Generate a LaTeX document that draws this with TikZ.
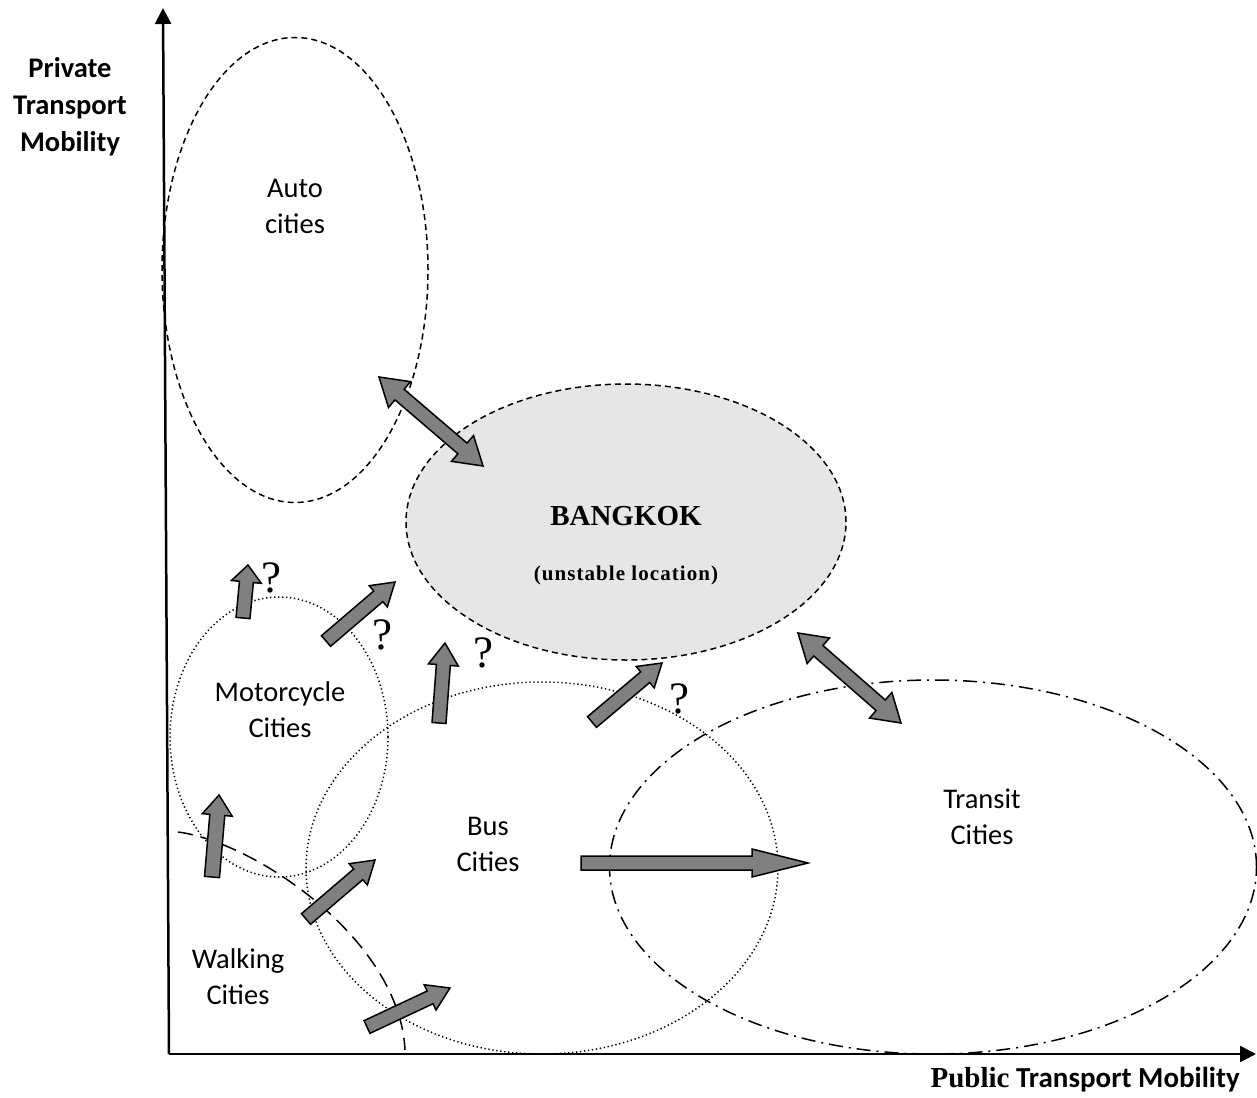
\documentclass[tikz,border=0pt]{standalone}
\usepackage{fontspec}
\newfontfamily\calibri{Carlito}
\newfontfamily\serifbf{Liberation Serif}
\newfontfamily\serifwide{Liberation Serif}[LetterSpace=5]
\usetikzlibrary{arrows.meta,shapes.geometric}

\definecolor{arrowgray}{HTML}{808080}
\definecolor{cityfill}{HTML}{E6E6E6}

\tikzset{
  lbl/.style={font=\calibri\fontsize{28.5}{36}\selectfont, align=center, inner sep=0pt},
  axlbl/.style={font=\calibri\fontsize{28.5}{37}\selectfont\bfseries, align=center, inner sep=0pt},
  qmark/.style={font=\serifbf\fontsize{45}{45}\selectfont, inner sep=0pt},
  axisline/.style={line width=2.5pt, -{Triangle[length=16pt,width=16pt]}},
  zone/.style={ellipse, inner sep=0pt, outer sep=0pt},
  dashzone/.style={zone, draw, line width=1.5pt, dash pattern=on 6pt off 4pt},
  dotzone/.style={zone, draw, line width=1.5pt, dash pattern=on 1.3pt off 2.7pt},
  dashdotzone/.style={zone, draw, line width=1.5pt, dash pattern=on 14pt off 6pt on 2pt off 6pt},
  longdash/.style={line width=1.5pt, dash pattern=on 15pt off 8pt},
  blockstyle/.style={fill=arrowgray, draw=black, line width=1.5pt, line join=miter},
}

% single-headed block arrow: x1 y1 x2 y2 shaft-half head-half head-length
\newcommand{\blockarrow}[7]{%
  \pgfmathsetmacro\baang{atan2(#2-#4,#3-#1)}%
  \pgfmathsetmacro\balen{veclen(#3-#1,#4-#2)}%
  \pgfmathsetmacro\babase{\balen-#7}%
  \begin{scope}[shift={(#1,#2)},rotate=\baang]
    \filldraw[blockstyle] (0,#5) -- (\babase,#5) -- (\babase,#6) -- (\balen,0)
      -- (\babase,-#6) -- (\babase,-#5) -- (0,-#5) -- cycle;
  \end{scope}}

% double-headed block arrow: x1 y1 x2 y2 shaft-half head-half head-length
\newcommand{\dblockarrow}[7]{%
  \pgfmathsetmacro\baang{atan2(#2-#4,#3-#1)}%
  \pgfmathsetmacro\balen{veclen(#3-#1,#4-#2)}%
  \pgfmathsetmacro\babase{\balen-#7}%
  \begin{scope}[shift={(#1,#2)},rotate=\baang]
    \filldraw[blockstyle] (0,0) -- (#7,#6) -- (#7,#5) -- (\babase,#5) -- (\babase,#6)
      -- (\balen,0) -- (\babase,-#6) -- (\babase,-#5) -- (#7,-#5) -- (#7,-#6) -- cycle;
  \end{scope}}

\begin{document}
\begin{tikzpicture}[x=1pt,y=-1pt]
  \useasboundingbox (0,0) rectangle (1257,1097);

  % axes
  \coordinate (origin) at (169,1054);
  \coordinate (ytop) at (163,8);
  \coordinate (xend) at (1256,1054);
  \draw[axisline] (origin) -- (ytop);
  \draw[axisline] (origin) -- (xend);

  % city zones
  \node[dashzone, minimum width=266pt, minimum height=465pt] (auto) at (295,270) {};
  \node[dotzone, minimum width=218pt, minimum height=280pt] (moto) at (279,737) {};
  \node[dotzone, minimum width=472pt, minimum height=372pt] (bus) at (542,868) {};
  \node[dashdotzone, minimum width=647pt, minimum height=374pt] (transit) at (933,867) {};
  \draw[longdash] (178,832) .. controls (255,842) and (400,940) .. (405,1050);
  \node[dashzone, fill=cityfill, minimum width=440pt, minimum height=276pt] (bkk) at (626,522) {};

  % movements between city types
  \dblockarrow{379}{377}{483}{466}{7}{17}{27}
  \dblockarrow{798}{633}{901}{723}{7}{17}{27}
  \blockarrow{243}{618}{248}{565}{7}{15}{17}
  \blockarrow{326}{641}{395}{582}{7}{14}{22}
  \blockarrow{439}{723}{445}{643}{7}{15}{22}
  \blockarrow{592}{722}{662}{663}{7}{14}{22}
  \blockarrow{581}{863}{808}{863}{7}{14}{56}
  \blockarrow{212}{877}{219}{795}{7.5}{15}{20}
  \blockarrow{306}{919}{375}{860}{7}{14}{22}
  \blockarrow{367}{1027}{450}{988}{7}{14}{22}

  % labels
  \node[lbl] (autolbl) at (295,206) {Auto\\cities};
  \node[lbl] (motolbl) at (280,710) {Motorcycle\\Cities};
  \node[lbl] (buslbl) at (488,844) {Bus\\Cities};
  \node[lbl] (walklbl) at (238,977) {Walking\\Cities};
  \node[lbl] (translbl) at (982,817) {Transit\\Cities};
  \node[font=\serifbf\bfseries\fontsize{29}{30}\selectfont, inner sep=0pt] (bkkname) at (626,516) {BANGKOK};
  \node[font=\serifwide\bfseries\fontsize{21}{22}\selectfont, inner sep=0pt] (bkknote) at (626,575) {(unstable location)};

  \node[qmark] (q1) at (271,578) {?};
  \node[qmark] (q2) at (382,635) {?};
  \node[qmark] (q3) at (483,653) {?};
  \node[qmark] (q4) at (679,699) {?};

  \node[axlbl] (ylbl) at (70,107) {Private\\Transport\\Mobility};
  \node[font=\calibri\fontsize{29}{30}\selectfont\bfseries, inner sep=0pt, anchor=base east] (xlbl) at (1240,1087)
    {{\serifbf Public} Transport Mobility};
\end{tikzpicture}
\end{document}
